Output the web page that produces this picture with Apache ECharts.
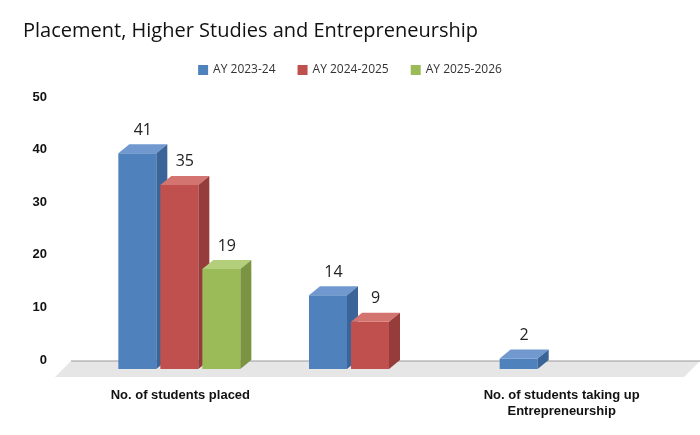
<!DOCTYPE html>
<html><head><meta charset="utf-8">
<script src="https://cdn.jsdelivr.net/npm/echarts@6/dist/echarts.min.js"></script>
<style>html,body{margin:0;padding:0;background:#fff}#c{width:700px;height:435px}</style>
</head><body><div id="c"></div>
<script>
const categories = ['No. of students placed', 'No. of students admitted\nto higher studies', 'No. of students taking up\nEntrepreneurship'];
const seriesNames = ['AY 2023-24', 'AY 2024-2025', 'AY 2025-2026'];
const v2023 = [41, 14, 2];
const v2024 = [35, 9, null];
const v2025 = [19, null, null];
const colors = [['#4F81BD','#7199cf','#3b6598'],['#C0504D','#d47471','#963c3a'],['#9BBB59','#b4cf7c','#7a9442']];
const allVals = [v2023, v2024, v2025];

function makeRender(si){
  return function(params, api){
    const cat = api.value(0), val = api.value(1);
    const c0 = api.coord([cat, 0]), c1 = api.coord([cat, val]);
    const w = 38, dx = 11, dy = -9, sh = 9;
    const xc = c0[0] + (si - 1) * 42 - 1;
    const xl = xc - w/2, xr = xc + w/2;
    const yb = c0[1] + sh, yt = c1[1] + sh;
    const col = colors[si];
    return {type:'group', children:[
      {type:'rect', shape:{x:xl, y:yt, width:w, height:yb-yt}, style:{fill:col[0]}},
      {type:'polygon', shape:{points:[[xl,yt],[xr,yt],[xr+dx,yt+dy],[xl+dx,yt+dy]]}, style:{fill:col[1]}},
      {type:'polygon', shape:{points:[[xr,yt],[xr+dx,yt+dy],[xr+dx,yb+dy],[xr,yb]]}, style:{fill:col[2]}},
      {type:'text', x:xc+dx/2, y:yt+dy-6, style:{text:String(val), fill:'#222', font:'16px "Open Sans", sans-serif', align:'center', verticalAlign:'bottom'}}
    ]};
  };
}

const series = allVals.map((arr, si) => ({
  type:'custom', name:seriesNames[si], itemStyle:{color:colors[si][0]},
  data: arr.map((v,i)=> v==null?null:[i,v]).filter(d=>d),
  renderItem: makeRender(si), z: 3
}));

const chart = echarts.init(document.getElementById('c'));
chart.setOption({
  animation:false,
  title:{text:'Placement, Higher Studies and Entrepreneurship', left:18, top:16, textStyle:{fontSize:20, fontWeight:'normal', color:'#111', fontFamily:'Open Sans'}},
  legend:{data:seriesNames, top:59, left:'center', itemWidth:10, itemHeight:10, itemGap:22, textStyle:{fontSize:12, color:'#333', fontFamily:'Open Sans'}, icon:'rect'},
  grid:{left:85, right:43, top:97, bottom:75},
  xAxis:{type:'category', data:categories, axisLine:{show:false}, axisTick:{show:false},
    axisLabel:{fontSize:13, fontWeight:'bold', color:'#111', margin:27, lineHeight:16}},
  yAxis:{type:'value', min:0, max:50, interval:10, splitLine:{show:false}, axisLine:{show:false}, axisTick:{show:false},
    axisLabel:{fontSize:13, fontWeight:'bold', color:'#111', margin:38}},
  graphic:[
    {type:'polygon', z:0, shape:{points:[[55,377],[684,377],[700,361],[71,361]]}, style:{fill:'#e6e6e6'}},
    {type:'line', z:1, shape:{x1:71,y1:361,x2:700,y2:361}, style:{stroke:'#999', lineWidth:1}}
  ],
  series
});
</script></body></html>
